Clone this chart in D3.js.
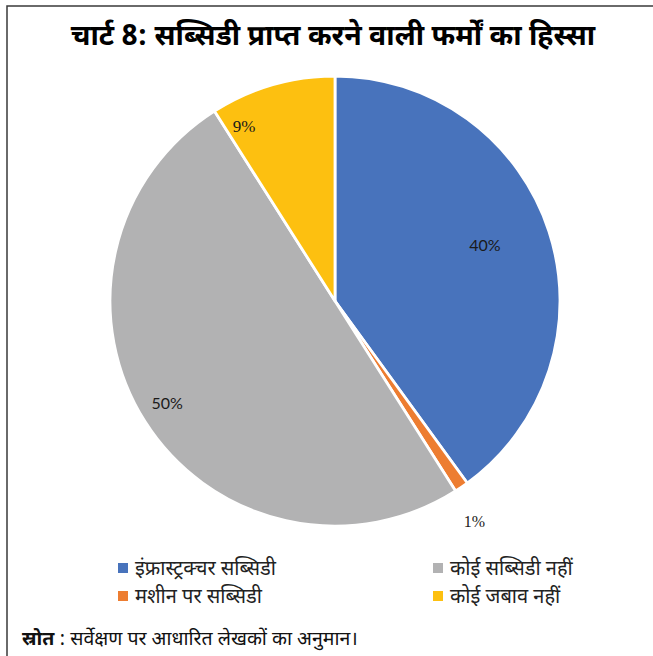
<!DOCTYPE html>
<html>
<head>
<meta charset="utf-8">
<script src="https://cdn.jsdelivr.net/npm/d3@7"></script>
<style>
  html, body { margin: 0; padding: 0; background: #fff; }
  svg { display: block; }
</style>
</head>
<body>
<svg id="chart" width="653" height="656"></svg>
<script>
// Share of firms receiving subsidies (survey based)
const categories = ["इंफ्रास्ट्रक्चर सब्सिडी", "मशीन पर सब्सिडी", "कोई सब्सिडी नहीं", "कोई जबाव नहीं"];
const shares = [40, 1, 50, 9];
const valueLabels = ["40%", "1%", "50%", "9%"];
const colors = ["#4873BC", "#ED7D31", "#B2B2B3", "#FDC010"];
const titleText = "चार्ट 8: सब्सिडी प्राप्त करने वाली फर्मों का हिस्सा";
const sourceLabel = "स्रोत";
const sourceText = " : सर्वेक्षण पर आधारित लेखकों का अनुमान।";

const devaFont = "'Noto Sans Devanagari', 'Noto Sans', 'Lohit Devanagari', sans-serif";
const sansLabelFont = "Lato, 'Open Sans', sans-serif";
const serifLabelFont = "'Liberation Serif', 'DejaVu Serif', serif";

const svg = d3.select("#chart");

// frame lines (top and left)
svg.append("path")
  .attr("d", "M7,656 L7,6 L653,6")
  .attr("fill", "none")
  .attr("stroke", "#3a3a3a")
  .attr("stroke-width", 1.5);

// title
svg.append("text")
  .attr("x", 333)
  .attr("y", 45)
  .attr("text-anchor", "middle")
  .attr("font-family", devaFont)
  .attr("font-weight", "bold")
  .attr("font-size", 28.5)
  .attr("fill", "#000")
  .text(titleText);

// pie
const cx = 335, cy = 301, radius = 225;
const pie = d3.pie().sort(null).value(d => d);
const arcs = pie(shares);
const arc = d3.arc().innerRadius(0).outerRadius(radius);

const g = svg.append("g").attr("transform", `translate(${cx},${cy})`);

g.selectAll("path.slice")
  .data(arcs)
  .join("path")
  .attr("class", "slice")
  .attr("d", arc)
  .attr("fill", (d, i) => colors[i])
  .attr("stroke", "#fff")
  .attr("stroke-width", 2.8)
  .attr("stroke-linejoin", "round");

// data label placement: radial fraction, angular nudge (degrees), font
const labelPlacement = [
  { r: 0.71, da: -2.3, font: sansLabelFont, size: 16 },
  { r: 1.16, da: 1.9, font: serifLabelFont, size: 16 },
  { r: 0.875, da: 0.9, font: sansLabelFont, size: 16 },
  { r: 0.875, da: -11.3, font: serifLabelFont, size: 17 }
];

g.selectAll("text.val")
  .data(arcs)
  .join("text")
  .attr("class", "val")
  .each(function (d, i) {
    const p = labelPlacement[i];
    const a = (d.startAngle + d.endAngle) / 2 + p.da * Math.PI / 180;
    const rr = radius * p.r;
    d3.select(this)
      .attr("x", rr * Math.sin(a))
      .attr("y", -rr * Math.cos(a))
      .attr("dy", "0.35em")
      .attr("font-family", p.font)
      .attr("font-size", p.size);
  })
  .attr("text-anchor", "middle")
  .attr("fill", "#1a1a1a")
  .text((d, i) => valueLabels[i]);

// legend, two columns
const legendCols = [118, 433];
const legendRows = [568, 596];
const legendOrder = [0, 2, 1, 3]; // row-major placement order
const legend = svg.append("g");
categories.forEach((c, i) => {
  const slot = legendOrder.indexOf(i);
  const x = legendCols[slot % 2];
  const y = legendRows[Math.floor(slot / 2)];
  legend.append("rect")
    .attr("x", x)
    .attr("y", y - 5)
    .attr("width", 10)
    .attr("height", 10)
    .attr("fill", colors[i]);
  legend.append("text")
    .attr("x", x + 17)
    .attr("y", y)
    .attr("dy", "0.35em")
    .attr("font-family", devaFont)
    .attr("font-size", 20)
    .attr("fill", "#222")
    .text(c);
});

// source note
const src = svg.append("text")
  .attr("x", 22)
  .attr("y", 645)
  .attr("font-family", devaFont)
  .attr("font-size", 19.5)
  .attr("fill", "#111");
src.append("tspan").attr("font-weight", "bold").text(sourceLabel);
src.append("tspan").text(sourceText);
</script>
</body>
</html>
